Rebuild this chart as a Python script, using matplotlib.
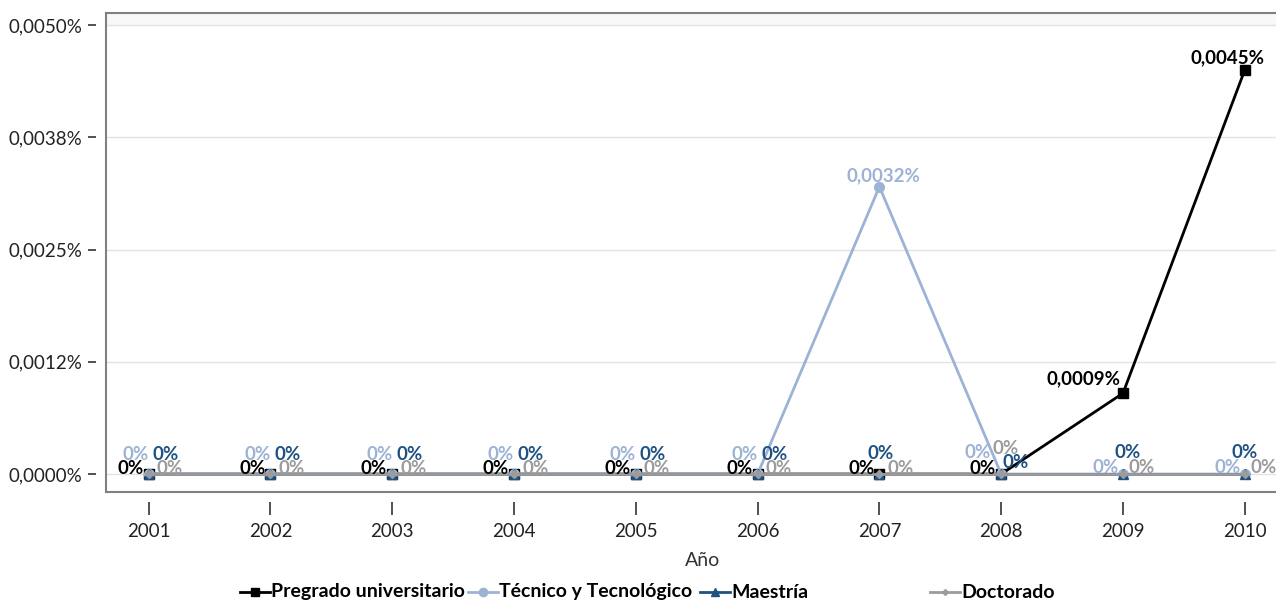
import numpy as np
import matplotlib
matplotlib.use("Agg")
import matplotlib.pyplot as plt
from matplotlib.lines import Line2D

plt.rcParams["font.family"] = ["Lato", "DejaVu Sans"]

# ──────────────────────────────────────────────
# Datos (valores en %)
# ──────────────────────────────────────────────
anios = [2001, 2002, 2003, 2004, 2005, 2006, 2007, 2008, 2009, 2010]
pregrado = [0, 0, 0, 0, 0, 0, 0, 0, 0.0009, 0.0045]
tecnico = [0, 0, 0, 0, 0, 0, 0.0032, 0, 0, 0]
maestria = [0, 0, 0, 0, 0, 0, 0, 0, 0, 0]
doctorado = [0, 0, 0, 0, 0, 0, 0, 0, 0, 0]

nombres = ["Pregrado universitario", "Técnico y Tecnológico", "Maestría", "Doctorado"]
yticks = [0, 0.00125, 0.0025, 0.00375, 0.005]
ytick_labels = ["0,0000%", "0,0012%", "0,0025%", "0,0038%", "0,0050%"]

# estilos
colores = ["#000000", "#9db3d6", "#1f5282", "#9c9c9c"]
marcadores = ["s", "o", "^", "D"]
tam_marc = [7, 7, 7, 4]

# desplazamientos de etiquetas (pixeles) y alineación
off_preg = [(-5, 6, "right")] * 8 + [(-3, 14, "right"), (-17, 12, "center")]
off_tec = [(-13, 20, "center")] * 6 + [(4, 11, "center"), (-24, 22, "center"),
                                        (-4, 7, "right"), (-4, 7, "right")]
off_mae = [(17, 20, "center")] * 6 + [(1, 21, "center"), (14, 12, "center"),
                                       (5, 22, "center"), (0, 22, "center")]
off_doc = [(8, 6, "left")] * 7 + [(4, 26, "center"), (5, 7, "left"), (6, 7, "left")]


def etiqueta(v):
    if v == 0:
        return "0%"
    return f"{v:.4f}".replace(".", ",") + "%"


fig = plt.figure(figsize=(12.76, 6.02), dpi=100)
ax = fig.add_axes([106 / 1276, 110 / 602, 1 - 106 / 1276 + 0.05, 479 / 602])

# marco gris con ticks separados (antes de fijar los ticks)
for lado in ["bottom", "left"]:
    ax.spines[lado].set_position(("outward", 7))
    ax.spines[lado].set_visible(False)
ax.spines["right"].set_visible(False)
ax.spines["top"].set_color("#808080")
ax.spines["top"].set_linewidth(1.5)
ax.plot([0, 1], [0, 0], transform=ax.transAxes, color="#808080", lw=1.5, clip_on=False)
ax.plot([0, 0], [0, 1], transform=ax.transAxes, color="#808080", lw=1.5, clip_on=False)

series = [pregrado, tecnico, maestria, doctorado]
offsets = [off_preg, off_tec, off_mae, off_doc]

for serie, cor, mk, ms in zip(series, colores, marcadores, tam_marc):
    ax.plot(anios, serie, color=cor, marker=mk, ms=ms, lw=2, zorder=3)

for serie, cor, offs in zip(series, colores, offsets):
    for x, y, (dx, dy, ha) in zip(anios, serie, offs):
        ax.annotate(etiqueta(y), (x, y), xytext=(dx, dy), textcoords="offset pixels",
                    ha=ha, va="center", color=cor, fontsize=13.5, fontweight="bold",
                    zorder=5)

ax.set_xlim(2000.65, 2010.78)
ax.set_ylim(-0.0002, 0.005134)
ax.set_xticks(anios)
ax.set_xticklabels([str(a) for a in anios])
ax.set_yticks(yticks)
ax.set_yticklabels(ytick_labels)

ax.grid(axis="y", color="#e3e3e3", lw=1)
ax.axhspan(0.005, 0.005134, color="#f8f8f8", zorder=0)
ax.set_axisbelow(True)

ax.tick_params(axis="x", length=9, width=1.2, color="#333333", pad=6, labelsize=13.5,
               labelcolor="#222222")
ax.tick_params(axis="y", length=6, width=1.2, color="#333333", pad=4, labelsize=13.5,
               labelcolor="#222222")

fig.text(703 / 1276, 1 - 561 / 602, "Año", ha="center", va="center", fontsize=14,
         color="#333333")

# leyenda manual
leg_x = [240, 468, 700, 930]
leg_y = 1 - 592 / 602
for nome, cor, mk, ms, x0 in zip(nombres, colores, marcadores, tam_marc, leg_x):
    fig.add_artist(Line2D([x0 / 1276, (x0 + 30) / 1276], [leg_y, leg_y], color=cor, lw=2,
                          transform=fig.transFigure))
    fig.add_artist(Line2D([(x0 + 15) / 1276], [leg_y], color=cor, marker=mk, ms=ms - 1,
                          transform=fig.transFigure))
    fig.text((x0 + 31) / 1276, leg_y, nome, ha="left", va="center", fontsize=14,
             fontweight="bold")

plt.savefig("out.png", dpi=100)
plt.close()
